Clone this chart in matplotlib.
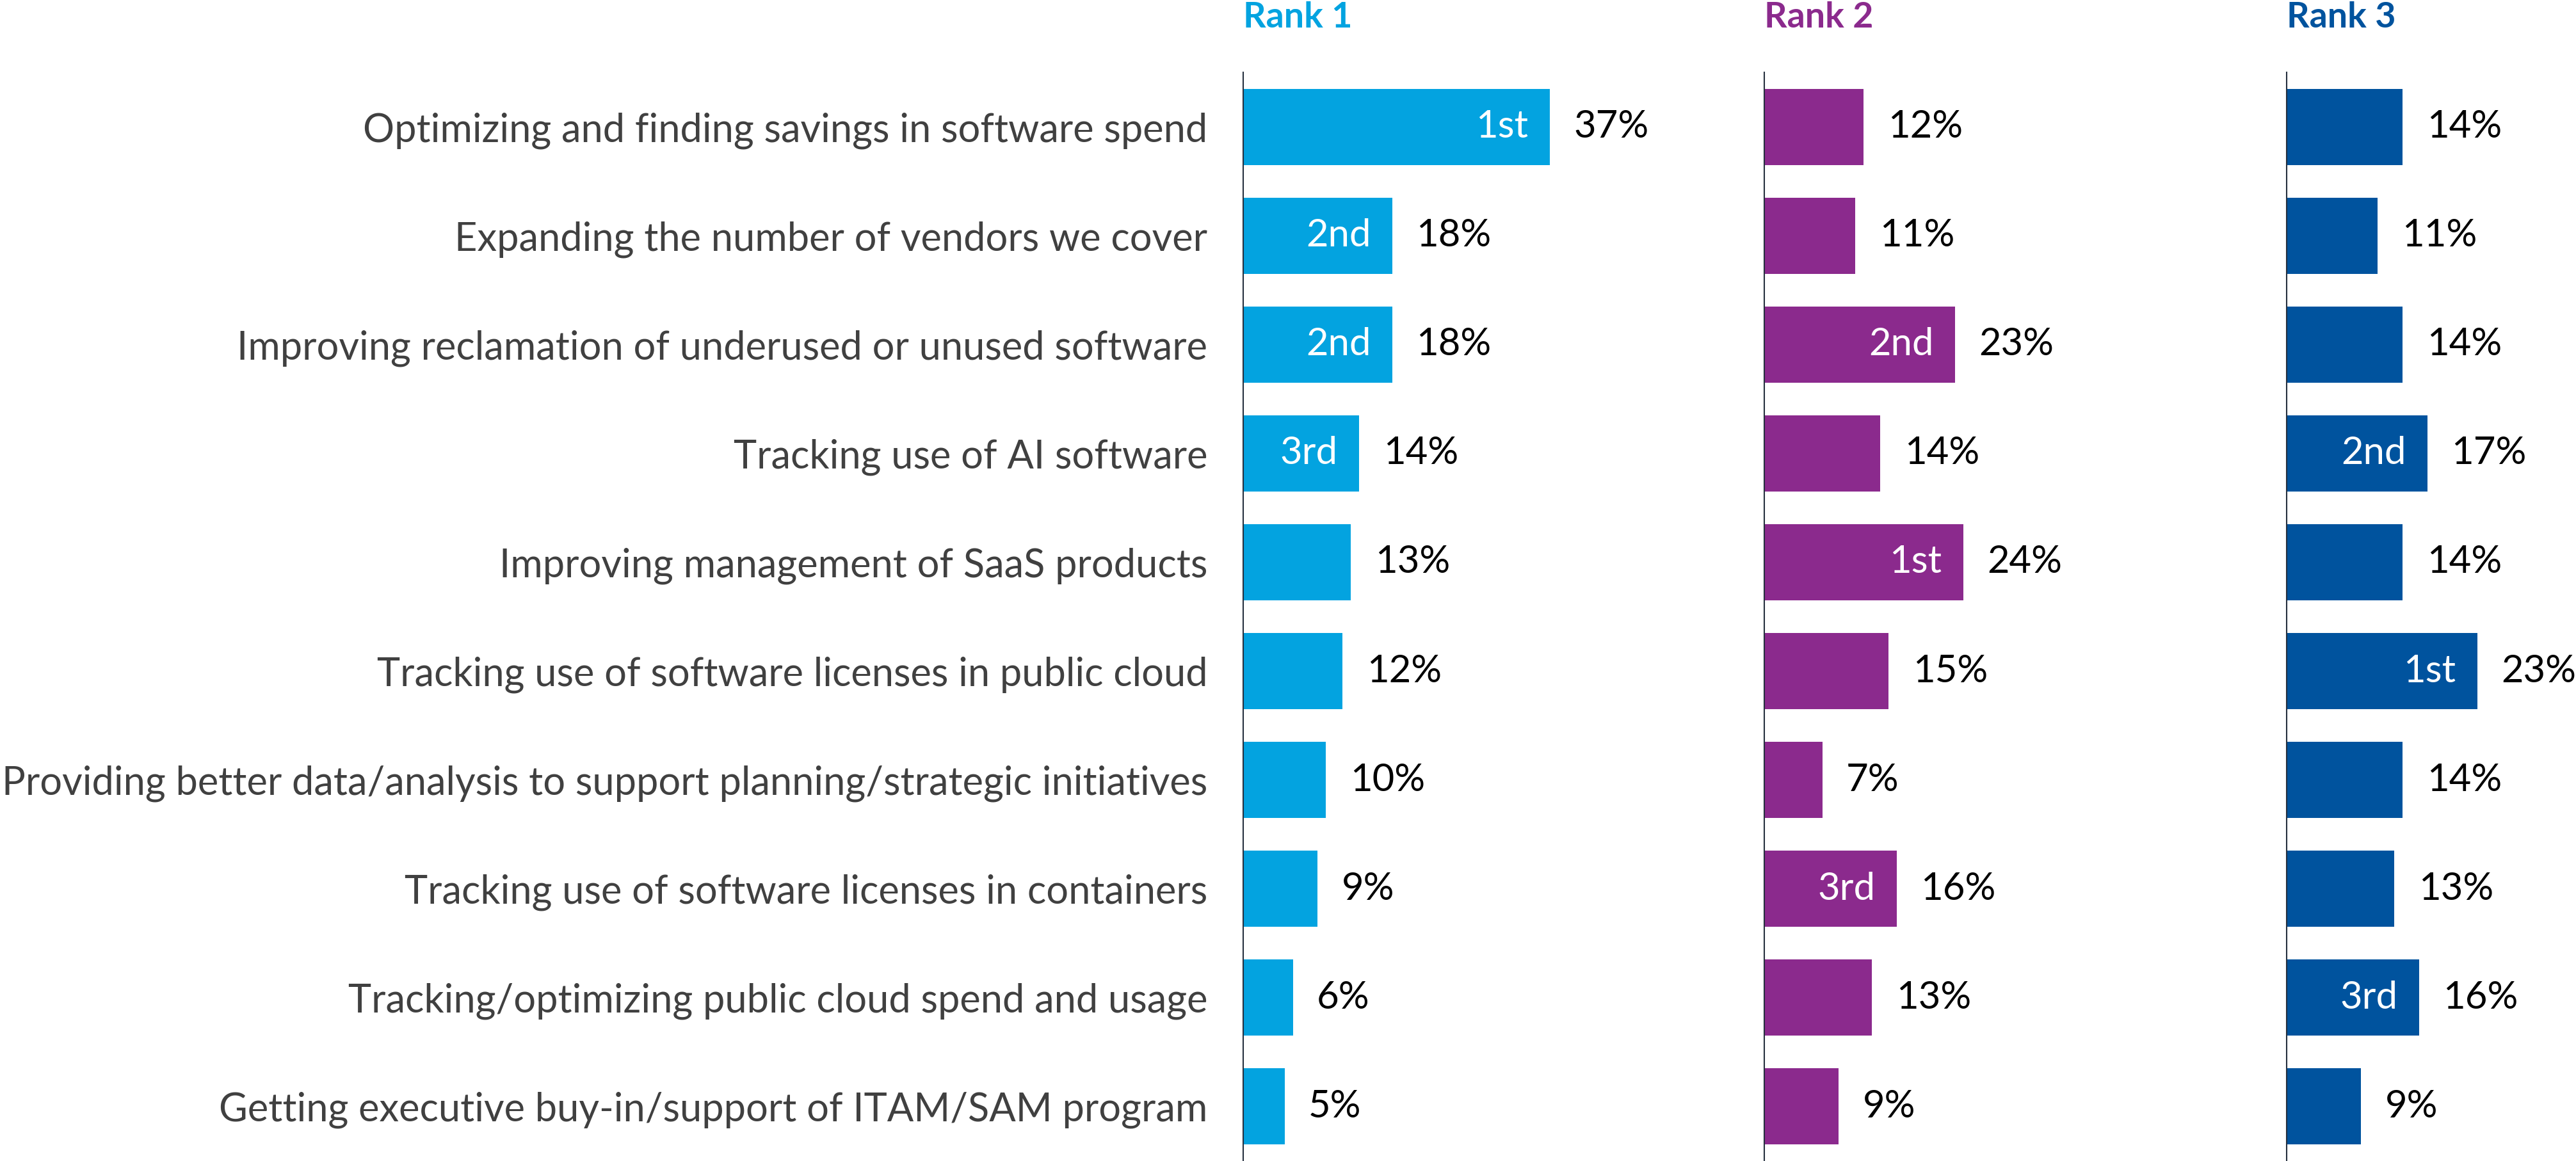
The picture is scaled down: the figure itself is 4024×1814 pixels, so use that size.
import matplotlib
matplotlib.use("Agg")
import matplotlib.pyplot as plt
import numpy as np

categories = [
    "Optimizing and finding savings in software spend",
    "Expanding the number of vendors we cover",
    "Improving reclamation of underused or unused software",
    "Tracking use of AI software",
    "Improving management of SaaS products",
    "Tracking use of software licenses in public cloud",
    "Providing better data/analysis to support planning/strategic initiatives",
    "Tracking use of software licenses in containers",
    "Tracking/optimizing public cloud spend and usage",
    "Getting executive buy-in/support of ITAM/SAM program",
]
rank1 = [37, 18, 18, 14, 13, 12, 10, 9, 6, 5]
rank2 = [12, 11, 23, 14, 24, 15, 7, 16, 13, 9]
rank3 = [14, 11, 14, 17, 14, 23, 14, 13, 16, 9]
rank1_tags = ["1st", "2nd", "2nd", "3rd", "", "", "", "", "", ""]
rank2_tags = ["", "", "2nd", "", "1st", "", "", "3rd", "", ""]
rank3_tags = ["", "", "", "2nd", "", "1st", "", "", "3rd", ""]
panel_titles = ["Rank 1", "Rank 2", "Rank 3"]
colors = ["#03A3E0", "#8B2A8D", "#00539E"]

W, H = 4024, 1814
DPI = 100
FONT = "Lato"
plt.rcParams["font.family"] = [FONT, "DejaVu Sans"]

fig = plt.figure(figsize=(W / DPI, H / DPI), dpi=DPI)

px_per_unit = 12.94
left_px = [1942, 2756, 3572]
top_px = 113
cat_fs = 44.2
val_fs = 43
title_fs = 40

y = np.arange(len(categories))
series = [rank1, rank2, rank3]
tags = [rank1_tags, rank2_tags, rank3_tags]

axes = []
for i in range(3):
    wpx = (W - left_px[i]) if i == 2 else 780
    ax = fig.add_axes([left_px[i] / W, 0, wpx / W, (H - top_px) / H])
    ax.set_xlim(0, wpx / px_per_unit)
    ax.set_ylim(len(categories) - 0.5, -0.5)
    ax.barh(y, series[i], height=0.70, color=colors[i], zorder=2)
    for s in ["top", "right", "bottom"]:
        ax.spines[s].set_visible(False)
    ax.spines["left"].set_color("#26303f")
    ax.spines["left"].set_linewidth(1.5)
    ax.spines["left"].set_zorder(3)
    ax.set_xticks([])
    ax.tick_params(axis="y", length=0)
    if i == 0:
        ax.set_yticks(y)
        ax.set_yticklabels(categories, fontsize=cat_fs, color="#404040")
        ax.tick_params(axis="y", pad=40)
    else:
        ax.set_yticks([])
    for yy, v, t in zip(y, series[i], tags[i]):
        ax.annotate(f"{v}%", xy=(v, yy), xytext=(27, 0), textcoords="offset points",
                    ha="left", va="center", fontsize=val_fs, color="black",
                    annotation_clip=False)
        if t:
            ax.annotate(t, xy=(v, yy), xytext=(-24, 0), textcoords="offset points",
                        ha="right", va="center", fontsize=val_fs, color="white")
    fig.text(left_px[i] / W, 1 - 43 / H, panel_titles[i], ha="left", va="baseline",
             fontsize=title_fs, fontweight="bold", color=colors[i])
    axes.append(ax)

fig.savefig("out.png", dpi=DPI)
